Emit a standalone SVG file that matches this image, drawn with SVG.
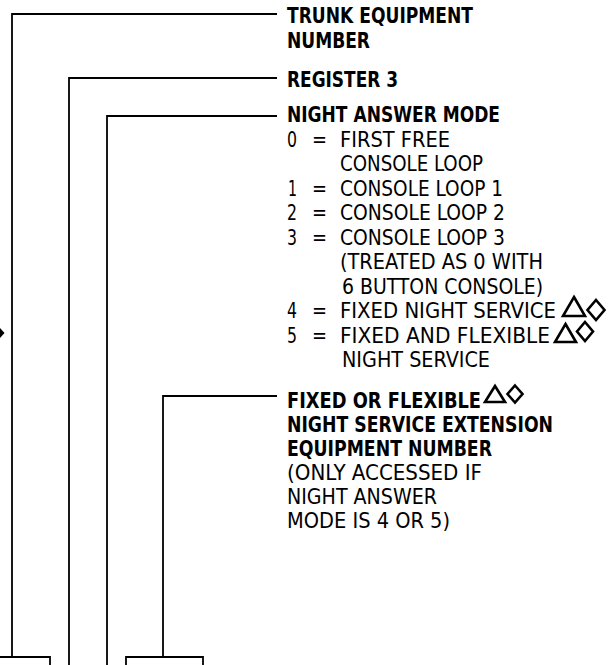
<svg xmlns="http://www.w3.org/2000/svg" width="613" height="665" viewBox="0 0 613 665">
<style>
  text { font-family: "Liberation Sans Narrow", "DejaVu Sans Condensed", "Liberation Sans", sans-serif; font-size: 22px; fill: #000; }
  .b { font-weight: bold; }
  .ln { fill: none; stroke: #000; stroke-width: 1.8; }
  .ic { fill: none; stroke: #000; stroke-width: 2.6; stroke-linejoin: miter; }
</style>
<rect width="613" height="665" fill="#fff"/>
<g id="connectors">
  <path class="ln" d="M277,14 H12 V657"/>
  <path class="ln" d="M277,78 H69 V665"/>
  <path class="ln" d="M277,116 H107 V665"/>
  <path class="ln" d="M277,396 H163 V657"/>
</g>
<g id="box-1"><path class="ln" d="M0,657 H50 V666"/></g>
<g id="box-2"><path class="ln" d="M126,666 V657 H203 V666"/></g>
<g id="edge-mark"><polygon points="0,328 4.5,333 0,338" fill="#000"/></g>
<g id="trunk-equipment-number">
  <text class="b" x="287" y="23" textLength="186" lengthAdjust="spacingAndGlyphs">TRUNK EQUIPMENT</text>
  <text class="b" x="287" y="48" textLength="83" lengthAdjust="spacingAndGlyphs">NUMBER</text>
</g>
<g id="register-3">
  <text class="b" x="287" y="87" textLength="111" lengthAdjust="spacingAndGlyphs">REGISTER 3</text>
</g>
<g id="night-answer-mode">
  <text class="b" x="287" y="121.5" textLength="213" lengthAdjust="spacingAndGlyphs">NIGHT ANSWER MODE</text>
  <text x="287" y="146.5" textLength="10" lengthAdjust="spacingAndGlyphs">0</text><text x="312" y="146.5" textLength="15" lengthAdjust="spacingAndGlyphs">=</text>
  <text x="340" y="146.5" textLength="110" lengthAdjust="spacingAndGlyphs">FIRST FREE</text>
  <text x="340" y="171" textLength="143" lengthAdjust="spacingAndGlyphs">CONSOLE LOOP</text>
  <text x="288" y="195.5" textLength="9" lengthAdjust="spacingAndGlyphs">1</text><text x="312" y="195.5" textLength="15" lengthAdjust="spacingAndGlyphs">=</text>
  <text x="340" y="195.5" textLength="163" lengthAdjust="spacingAndGlyphs">CONSOLE LOOP 1</text>
  <text x="287" y="220" textLength="10" lengthAdjust="spacingAndGlyphs">2</text><text x="312" y="220" textLength="15" lengthAdjust="spacingAndGlyphs">=</text>
  <text x="340" y="220" textLength="165" lengthAdjust="spacingAndGlyphs">CONSOLE LOOP 2</text>
  <text x="287" y="244.5" textLength="10" lengthAdjust="spacingAndGlyphs">3</text><text x="312" y="244.5" textLength="15" lengthAdjust="spacingAndGlyphs">=</text>
  <text x="340" y="244.5" textLength="165" lengthAdjust="spacingAndGlyphs">CONSOLE LOOP 3</text>
  <text x="340" y="269" textLength="203" lengthAdjust="spacingAndGlyphs">(TREATED AS 0 WITH</text>
  <text x="342" y="293.5" textLength="201" lengthAdjust="spacingAndGlyphs">6 BUTTON CONSOLE)</text>
  <text x="287" y="318" textLength="10" lengthAdjust="spacingAndGlyphs">4</text><text x="312" y="318" textLength="15" lengthAdjust="spacingAndGlyphs">=</text>
  <text x="340" y="318" textLength="216" lengthAdjust="spacingAndGlyphs">FIXED NIGHT SERVICE</text>
  <polygon class="ic" points="574,297 585,316 563,316"/>
  <polygon class="ic" points="596,300 604.5,310 596,320 587.5,310"/>
  <text x="287" y="342.5" textLength="10" lengthAdjust="spacingAndGlyphs">5</text><text x="312" y="342.5" textLength="15" lengthAdjust="spacingAndGlyphs">=</text>
  <text x="340" y="342.5" textLength="210" lengthAdjust="spacingAndGlyphs">FIXED AND FLEXIBLE</text>
  <polygon class="ic" points="565.5,324 576,342 555,342"/>
  <polygon class="ic" points="585,322 593,331.5 585,341 577,331.5"/>
  <text x="342" y="367" textLength="148" lengthAdjust="spacingAndGlyphs">NIGHT SERVICE</text>
</g>
<g id="night-service-extension">
  <text class="b" x="287" y="408" textLength="194" lengthAdjust="spacingAndGlyphs">FIXED OR FLEXIBLE</text>
  <polygon class="ic" points="495,386 505,402 485,402"/>
  <polygon class="ic" points="515,385.5 522.5,394 515,402.5 507.5,394"/>
  <text class="b" x="287" y="432" textLength="266" lengthAdjust="spacingAndGlyphs">NIGHT SERVICE EXTENSION</text>
  <text class="b" x="287" y="455.5" textLength="205" lengthAdjust="spacingAndGlyphs">EQUIPMENT NUMBER</text>
  <text x="287" y="479.5" textLength="195" lengthAdjust="spacingAndGlyphs">(ONLY ACCESSED IF</text>
  <text x="287" y="503.5" textLength="150" lengthAdjust="spacingAndGlyphs">NIGHT ANSWER</text>
  <text x="287" y="527.5" textLength="163" lengthAdjust="spacingAndGlyphs">MODE IS 4 OR 5)</text>
</g>
</svg>
